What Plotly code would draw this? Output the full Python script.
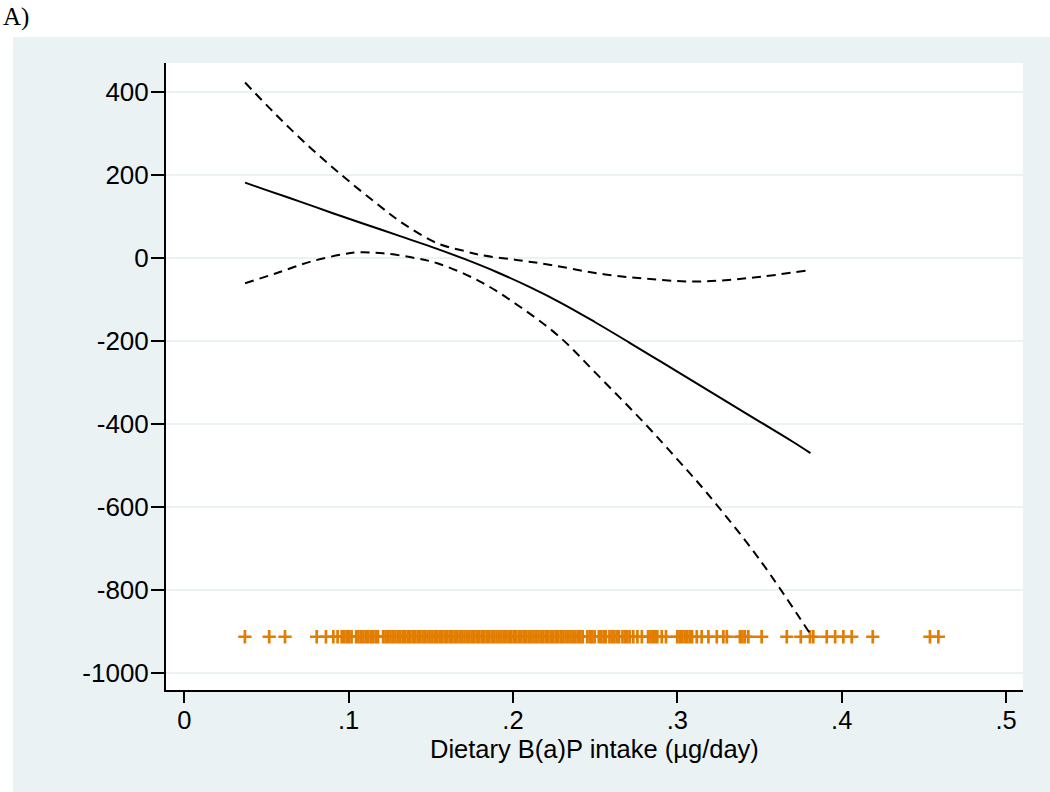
import plotly.graph_objects as go

# ---- data ----
fit_x = [0.037, 0.05, 0.07, 0.09, 0.11, 0.13, 0.15, 0.17, 0.19, 0.21, 0.23,
         0.25, 0.27, 0.29, 0.31, 0.33, 0.35, 0.37, 0.381]
fit_y = [181, 163, 136, 108, 81, 54, 27, -2, -34, -70, -110,
         -155, -202, -250, -298, -346, -394, -442, -470]

upper_x = [0.037, 0.056, 0.077, 0.097, 0.117, 0.133, 0.154, 0.172, 0.18, 0.202,
           0.223, 0.251, 0.28, 0.312, 0.345, 0.378]
upper_y = [422, 344, 264, 195, 131, 83, 35, 15, 7, -5,
           -17, -37, -50, -57, -48, -31]

lower_x = [0.037, 0.056, 0.077, 0.097, 0.105, 0.121, 0.141, 0.154, 0.18,
           0.204, 0.228, 0.251, 0.28, 0.30, 0.318, 0.35, 0.381]
lower_y = [-61, -37, -9, 9, 13, 11, -1, -13, -57,
           -117, -189, -280, -398, -485, -566, -726, -906]

# observations shown as a rug of "+" marks
rug_x = [0.0369, 0.0517, 0.0613, 0.0806, 0.0862, 0.0907, 0.0933,
         0.0958, 0.0973, 0.0988, 0.1003, 0.1018,
         0.1046, 0.106, 0.1075, 0.109, 0.1105, 0.112, 0.1135, 0.115, 0.1165, 0.1179,
         0.121, 0.1225, 0.124, 0.1255, 0.127, 0.1285, 0.13, 0.1315, 0.133, 0.1345,
         0.136, 0.1375, 0.139, 0.1405, 0.142, 0.1435, 0.145, 0.1465, 0.148, 0.1495,
         0.151, 0.1525, 0.154, 0.1555, 0.157, 0.1585, 0.16, 0.1615, 0.163, 0.1645,
         0.166, 0.1675, 0.169, 0.1705, 0.172, 0.1735, 0.175, 0.1765, 0.178, 0.1795,
         0.181, 0.1825, 0.184, 0.1855, 0.187, 0.1885, 0.19, 0.1915, 0.193, 0.1945,
         0.196, 0.1975, 0.199, 0.2005, 0.202, 0.2035, 0.205, 0.2065, 0.208, 0.2095,
         0.211, 0.2125, 0.214, 0.2155, 0.217, 0.2185, 0.22, 0.2215, 0.223, 0.2245,
         0.226, 0.2275, 0.229, 0.2305, 0.232, 0.2335, 0.235, 0.2365, 0.238, 0.2395,
         0.241, 0.2424,
         0.2452, 0.2467, 0.2482, 0.2497,
         0.2522, 0.2537, 0.2552, 0.2565,
         0.2587, 0.2602, 0.2617, 0.2632, 0.2645,
         0.2666, 0.2681, 0.2696, 0.2711,
         0.2732, 0.2757, 0.2784,
         0.2822, 0.2837, 0.2852, 0.2865,
         0.2878, 0.2905, 0.2931,
         0.3, 0.3015, 0.303, 0.3045, 0.306, 0.3075, 0.309,
         0.3118, 0.3148, 0.3189, 0.324, 0.328, 0.3301,
         0.3381, 0.3396, 0.3411, 0.3432, 0.3513, 0.3666, 0.3751, 0.3807, 0.3827,
         0.3909, 0.396, 0.401, 0.4061, 0.4189, 0.4537, 0.4588]
rug_level = -912

x_ticks = [0, 0.1, 0.2, 0.3, 0.4, 0.5]
x_labels = ["0", ".1", ".2", ".3", ".4", ".5"]
y_ticks = [400, 200, 0, -200, -400, -600, -800, -1000]
y_labels = ["400", "200", "0", "-200", "-400", "-600", "-800", "-1000"]

x_title = "Dietary B(a)P intake (µg/day)"
panel_label = "A)"

# ---- figure ----
PANEL = "#EAF2F3"
ORANGE = "#E37D00"
FONT = "Liberation Sans, Arial, sans-serif"

fig = go.Figure()

fig.add_trace(go.Scatter(
    x=rug_x, y=[rug_level] * len(rug_x), mode="markers",
    marker=dict(symbol="cross-thin", size=9.5, color=ORANGE,
                line=dict(color=ORANGE, width=2.7)),
    showlegend=False, hoverinfo="skip"))

fig.add_trace(go.Scatter(
    x=upper_x, y=upper_y, mode="lines", line_shape="spline",
    line=dict(color="black", width=2, dash="9px,6px"), showlegend=False))
fig.add_trace(go.Scatter(
    x=lower_x, y=lower_y, mode="lines", line_shape="spline",
    line=dict(color="black", width=2, dash="9px,6px"), showlegend=False))
fig.add_trace(go.Scatter(
    x=fit_x, y=fit_y, mode="lines", line_shape="spline",
    line=dict(color="black", width=2), showlegend=False))

L, R, T, B = 166, 27, 63, 102
W, H = 1050, 792
pw, ph = W - L - R, H - T - B


def px(xp):
    return (xp - L) / pw


def py(yp):
    return (H - B - yp) / ph


fig.update_layout(
    width=W, height=H,
    margin=dict(l=L, r=R, t=T, b=B, pad=0),
    paper_bgcolor=PANEL, plot_bgcolor="white",
    font=dict(family=FONT, size=26, color="black"),
    shapes=[
        dict(type="rect", xref="paper", yref="paper", layer="below",
             x0=px(0), x1=px(W), y0=py(37), y1=py(0),
             fillcolor="white", line_width=0),
        dict(type="rect", xref="paper", yref="paper", layer="below",
             x0=px(0), x1=px(13), y0=py(H), y1=py(0),
             fillcolor="white", line_width=0),
    ],
    annotations=[
        dict(text=panel_label, xref="paper", yref="paper",
             x=px(1), y=py(1), xanchor="left", yanchor="top",
             showarrow=False,
             font=dict(family="Liberation Serif, Times New Roman, serif",
                       size=25, color="black")),
        dict(text=x_title, xref="paper", yref="paper",
             x=0.5, y=py(749), xanchor="center", yanchor="middle",
             showarrow=False, font=dict(size=25.5, color="black")),
    ],
)

fig.update_xaxes(
    range=[-0.0111, 0.5103], tickvals=x_ticks, ticktext=x_labels,
    showgrid=False, zeroline=False,
    showline=True, linecolor="black", linewidth=2,
    ticks="outside", ticklen=11, tickwidth=2, tickcolor="black",
    tickfont=dict(size=25.5), ticklabelstandoff=-5,
)
fig.update_yaxes(
    range=[-1040.2, 469], tickvals=y_ticks, ticktext=y_labels,
    showgrid=True, gridcolor=PANEL, gridwidth=1.5, zeroline=False,
    showline=True, linecolor="black", linewidth=2,
    ticks="outside", ticklen=13, tickwidth=2, tickcolor="black",
    tickfont=dict(size=26), ticklabelstandoff=-3,
)

fig.write_html(
    "out.html",
    config={"displayModeBar": False},
    post_script="document.body.style.margin='0';document.body.style.overflow='hidden';",
)
